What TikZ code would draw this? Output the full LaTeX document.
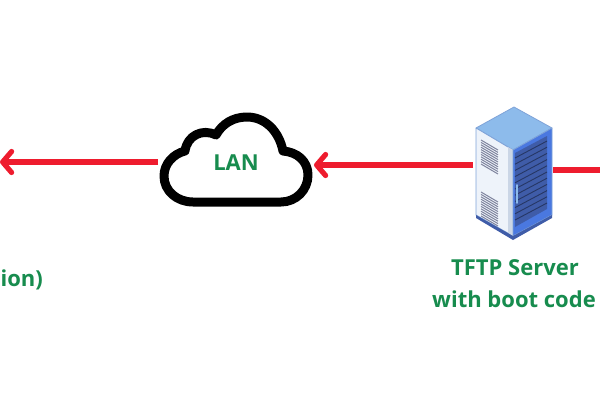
\documentclass[tikz,border=0pt]{standalone}
\usepackage{fontspec}
\setmainfont{Open Sans}
\usetikzlibrary{arrows.meta}
\definecolor{linkred}{HTML}{EE1C2E}
\definecolor{labelgreen}{HTML}{178C4E}
\definecolor{roofblue}{HTML}{8DBBEB}
\definecolor{sideblue}{HTML}{4A78E0}
\definecolor{rackdark}{HTML}{3F5CA8}
\definecolor{panel}{HTML}{EEF3FA}
\definecolor{strip}{HTML}{CBD6E6}
\definecolor{vent}{HTML}{7F849E}
\definecolor{edgeblue}{HTML}{7FA3D8}
\tikzset{
  link/.style={draw=linkred,line width=5.2pt,-{Straight Barb[length=9pt,width=21pt,line width=5.2pt,round]}},
  plainlink/.style={draw=linkred,line width=5.2pt},
  caption/.style={text=labelgreen,font=\fontsize{22}{26}\selectfont\bfseries,inner sep=0pt},
  ventline/.style={draw=vent,line width=1pt},
  shelf/.style={draw=rackdark!60!black,line width=.9pt},
}
\begin{document}
\begin{tikzpicture}[x=1pt,y=-1pt]
\useasboundingbox (0,0) rectangle (600,400);
\clip (0,0) rectangle (600,400);

% Cloud outline
\draw[line width=9pt,line join=round,fill=white]
  (193,202) -- (281,202)
  .. controls (296,202) and (308,190) .. (308,175)
  .. controls (308,161) and (297,152) .. (283,151)
  .. controls (279,131) and (265,117) .. (247,117)
  .. controls (233,117) and (222,124) .. (216,135)
  .. controls (202,128) and (187,136) .. (185,151)
  .. controls (173,154) and (164,164) .. (164,176)
  .. controls (164,191) and (177,202) .. (193,202) -- cycle;
\node[caption] (lan) at (236,162.5) {LAN};

% Server cabinet: roof, side panel, rack front
\fill[roofblue,draw=edgeblue,line width=.8pt,line join=round] (514,107) -- (552,128) -- (513,150) -- (476,128) -- cycle;
\fill[panel,draw=edgeblue,line width=.8pt,line join=round] (476,128) -- (513,150) -- (513,236) -- (476,215) -- cycle;
\fill[strip] (508,147) -- (513,150) -- (513,236) -- (508,233) -- cycle;
\fill[sideblue,draw=edgeblue,line width=.8pt,line join=round] (513,150) -- (552,128) -- (552,215) -- (513,236) -- cycle;
\fill[rackdark] (515,153) -- (547,136) -- (547,209) -- (515,227) -- cycle;
\foreach \i in {0,...,10}{
  \draw[shelf] (515,{158+6.2*\i}) -- (547,{141+6.2*\i});
}
\draw[draw=roofblue,line width=1.8pt,line cap=round] (517,185) -- (517,203);
% Base plinth
\fill[rackdark] (476,215) -- (513,236) -- (552,215) -- (552,218) -- (513,240) -- (476,218) -- cycle;
% Ventilation grilles
\foreach \i in {0,...,10}{
  \draw[ventline] (481,{140+2.4*\i}) -- (498,{150+2.4*\i});
  \draw[ventline] (481,{192+2.4*\i}) -- (498,{202+2.4*\i});
}
\coordinate (srvleft) at (473,165);
\coordinate (srvright) at (553,170);
\coordinate (edge) at (600,170);
\coordinate (lanright) at (314,165);
\coordinate (lanleft) at (158,162);
\coordinate (far) at (0,162);

% Links
\draw[plainlink] (edge) -- (srvright);
\draw[link] (srvleft) -- (lanright);
\draw[link] (lanleft) -- (far);

% Captions
\node[caption,anchor=base east] (client) at (43,286) {ion)};
\node[caption,anchor=base] (srvname) at (515,275.5) {TFTP Server};
\node[caption,anchor=base] (srvrole) at (514,307.5) {with boot code};
\end{tikzpicture}
\end{document}
